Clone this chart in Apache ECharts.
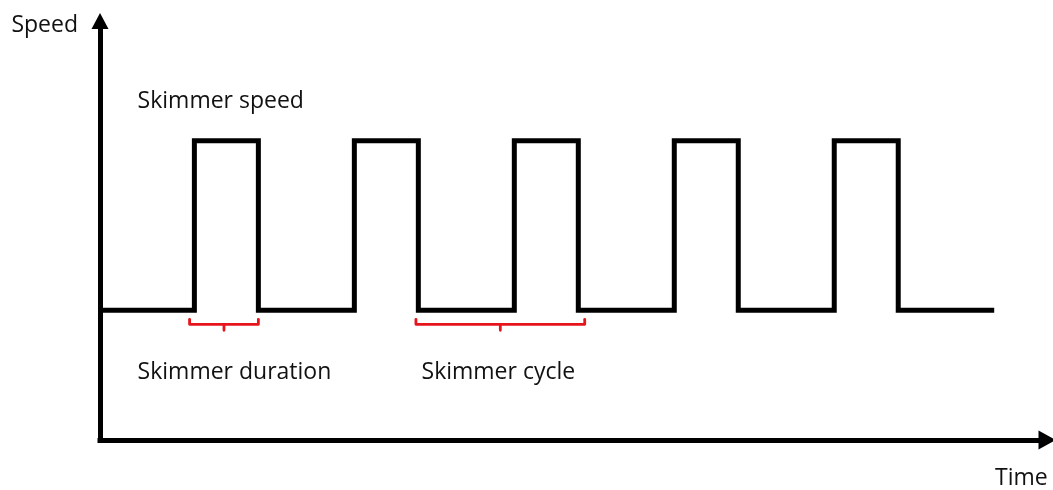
<!DOCTYPE html>
<html>
<head>
<meta charset="utf-8">
<script src="https://cdn.jsdelivr.net/npm/echarts@6/dist/echarts.min.js"></script>
<style>html,body{margin:0;padding:0;background:#fff}#c{width:1053px;height:490px}</style>
</head>
<body>
<div id="c"></div>
<script>
// Square-wave skimmer speed: edge times and levels (step drawn by library)
const edgeTimes = [0, 5.9, 9.9, 15.9, 19.9, 25.9, 29.9, 35.9, 39.9, 45.9, 49.9, 55.9];
const speedLevels = [13, 30, 13, 30, 13, 30, 13, 30, 13, 30, 13, 13];
// Braces: [start, end] in time, base level, end-hook level, centre-tick level
const durationBrace = [5.6, 9.9];
const cycleBrace = [19.75, 30.3];
const braceLevels = { base: 11.6, hook: 12.1, tick: 11.0 };
// Annotation labels: [text, time, speed]
const labelTexts = ['Skimmer speed', 'Skimmer duration', 'Skimmer cycle'];
const labelTimes = [2.35, 2.35, 20.1];
const labelSpeeds = [33.9, 6.75, 6.75];
const axisNames = { x: 'Time', y: 'Speed' };

function braceData(b) {
  const mid = (b[0] + b[1]) / 2;
  return [
    [b[0], braceLevels.hook], [b[0], braceLevels.base], [b[1], braceLevels.base], [b[1], braceLevels.hook],
    null,
    [mid, braceLevels.base], [mid, braceLevels.tick],
    null
  ];
}

const chart = echarts.init(document.getElementById('c'));
const font = '"Open Sans", "Noto Sans", sans-serif';
const textColor = '#111';
const axisLineStyle = { color: '#000', width: 5, cap: 'square' };
chart.setOption({
  animation: false,
  grid: { left: 100, right: 6, top: 21, bottom: 49 },
  xAxis: {
    type: 'value', min: 0, max: 59.2,
    name: axisNames.x, nameLocation: 'end', nameGap: -52,
    nameTextStyle: { fontFamily: font, fontSize: 23, color: textColor, verticalAlign: 'top', padding: [27, 0, 0, 0] },
    axisLine: { show: true, onZero: false, symbol: ['none', 'triangle'], symbolSize: [19, 17], lineStyle: axisLineStyle },
    axisTick: { show: false }, axisLabel: { show: false }, splitLine: { show: false }
  },
  yAxis: {
    type: 'value', min: 0, max: 42,
    name: axisNames.y, nameLocation: 'end', nameGap: -4,
    nameTextStyle: { fontFamily: font, fontSize: 23, color: textColor, align: 'right', verticalAlign: 'middle', padding: [0, 22, 0, 0] },
    axisLine: { show: true, onZero: false, symbol: ['none', 'triangle'], symbolSize: [17, 16], lineStyle: axisLineStyle },
    axisTick: { show: false }, axisLabel: { show: false }, splitLine: { show: false }
  },
  series: [
    {
      type: 'line', step: 'end', symbol: 'none',
      data: edgeTimes.map((t, i) => [t, speedLevels[i]]),
      lineStyle: { color: '#000', width: 5, join: 'miter', cap: 'butt' }
    },
    {
      type: 'line', symbol: 'none', connectNulls: false,
      data: braceData(durationBrace).concat(braceData(cycleBrace)),
      lineStyle: { color: '#e8141b', width: 2.8, join: 'round', cap: 'round' }
    },
    {
      type: 'scatter', symbolSize: 0, itemStyle: { opacity: 1 },
      data: labelTexts.map((s, i) => ({ name: s, value: [labelTimes[i], labelSpeeds[i]] })),
      label: {
        show: true, position: 'right', distance: 0, formatter: p => p.name,
        fontFamily: font, fontSize: 23, color: textColor, opacity: 1
      }
    }
  ]
});
</script>
</body>
</html>
